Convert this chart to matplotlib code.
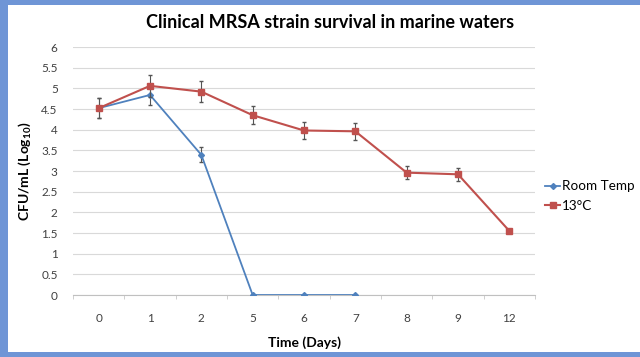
import numpy as np
import matplotlib.pyplot as plt
from matplotlib.patches import Rectangle

plt.rcParams['font.family'] = ['Lato', 'DejaVu Sans']
plt.rcParams['mathtext.fontset'] = 'custom'
plt.rcParams['mathtext.rm'] = 'Lato'
plt.rcParams['mathtext.bf'] = 'Lato:bold'

# data
days = ['0', '1', '2', '5', '6', '7', '8', '9', '12']
room_temp = [4.52, 4.84, 3.39, 0, 0, 0, np.nan, np.nan, np.nan]
room_err = [0.24, 0.25, 0.18, 0, 0, 0, np.nan, np.nan, np.nan]
cold = [4.52, 5.06, 4.92, 4.35, 3.98, 3.96, 2.96, 2.92, 1.55]
cold_err = [0.24, 0.27, 0.25, 0.22, 0.21, 0.21, 0.16, 0.15, 0.05]

fig = plt.figure(figsize=(6.4, 3.57), dpi=100)
fig.patch.set_facecolor('#6f95d6')
fig.patches.append(Rectangle((8 / 640, 5 / 357), 1, 347 / 357, transform=fig.transFigure,
                             facecolor='white', edgecolor='none', zorder=-1))

ax = fig.add_axes([73 / 640, 1 - 295 / 357, 462 / 640, 248 / 357])
ax.set_facecolor('white')
x = np.arange(len(days))

eb1 = ax.errorbar(x, room_temp, yerr=room_err, color='#4f81bd', marker='D', markersize=3,
                  lw=1.3, ecolor='#555555', elinewidth=0.8, capsize=1.5, zorder=3)
eb2 = ax.errorbar(x, cold, yerr=cold_err, color='#c0504d', marker='s', markersize=5,
                  lw=1.5, ecolor='#555555', elinewidth=0.8, capsize=1.5, zorder=4)

ax.set_xlim(-0.5, len(days) - 0.5)
ax.set_ylim(0, 6)
ax.set_yticks(np.arange(0, 6.01, 0.5))
ax.set_yticklabels(['0', '0.5', '1', '1.5', '2', '2.5', '3', '3.5', '4', '4.5', '5', '5.5', '6'])
ax.set_xticks(x)
ax.set_xticklabels(days)
ax.set_xticks(np.arange(-0.5, len(days), 0.5), minor=True)
ax.grid(axis='y', color='#d9d9d9', lw=0.8)
ax.set_axisbelow(True)
for s in ['top', 'right', 'left']:
    ax.spines[s].set_visible(False)
ax.spines['bottom'].set_color('#c0c0c0')
ax.tick_params(axis='y', length=0, pad=11, labelsize=8.5, colors='#404040')
ax.tick_params(axis='x', which='major', length=0, pad=13, labelsize=8.5, colors='#404040')
ax.tick_params(axis='x', which='minor', length=3, color='#c8c8c8', direction='out')

ax.set_xlabel('Time (Days)', fontsize=10, fontweight='bold', labelpad=9)
ax.set_ylabel(r'CFU/mL (Log$_{\mathbf{10}}$)', fontsize=10, fontweight='bold', labelpad=6)
fig.text(330 / 640, 1 - 22 / 357, 'Clinical MRSA strain survival in marine waters',
         ha='center', va='center', fontsize=13, fontweight='bold')

ax.legend([eb1.lines[0], eb2.lines[0]], ['Room Temp', '13°C'], loc='upper left',
          bbox_to_anchor=(540 / 640, 1 - 175 / 357), bbox_transform=fig.transFigure,
          frameon=False, fontsize=9.7, handlelength=1.1, handletextpad=0.15, labelspacing=0.55,
          borderaxespad=0)

fig.savefig('out.png', dpi=100)
